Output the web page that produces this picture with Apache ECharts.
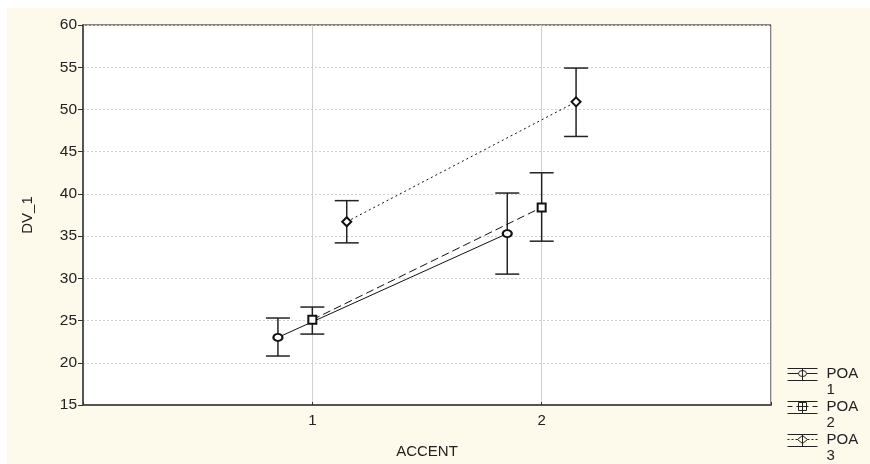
<!DOCTYPE html>
<html>
<head>
<meta charset="utf-8">
<script src="https://cdn.jsdelivr.net/npm/echarts@6/dist/echarts.min.js"></script>
<style>
  html, body { margin: 0; padding: 0; background: #fff; }
  #chart { width: 870px; height: 464px; }
</style>
</head>
<body>
<div id="chart"></div>
<script>
// ACCENT levels, each POA group is dodged a little around them
const accent = [1, 2]
const dodge = { 'POA 1': -0.15, 'POA 2': 0, 'POA 3': 0.15 }

// means and error bar limits
const poa1Mean = [23.0, 35.3]
const poa1Low = [20.8, 30.5]
const poa1High = [25.3, 40.1]

const poa2Mean = [25.1, 38.4]
const poa2Low = [23.4, 34.4]
const poa2High = [26.6, 42.5]

const poa3Mean = [36.7, 50.9]
const poa3Low = [34.2, 46.8]
const poa3High = [39.2, 54.9]

const yTicks = [15, 20, 25, 30, 35, 40, 45, 50, 55, 60]

const groups = [
  { name: 'POA 1', mean: poa1Mean, low: poa1Low, high: poa1High, symbol: 'emptyCircle', size: [9, 7], dash: 'solid' },
  { name: 'POA 2', mean: poa2Mean, low: poa2Low, high: poa2High, symbol: 'emptyRect', size: [8, 8], dash: [8, 4] },
  { name: 'POA 3', mean: poa3Mean, low: poa3Low, high: poa3High, symbol: 'emptyDiamond', size: [9, 9], dash: [2, 3] }
]

// legend icons: error bar glyph with the series marker, box 34x32
const frame = ' M0 3 L30 3 M0 15 L30 15 M34 32 L34 32 M0 0 L0 0'
const legendIcons = {
  'POA 1': 'path://M0 8 L11 8 M19 8 L30 8 M15 3 L15 15 M11 8 A4 3 0 1 1 19 8 A4 3 0 1 1 11 8' + frame,
  'POA 2': 'path://M0 8 L5 8 M9 8 L11 8 M19 8 L21 8 M25 8 L30 8 M15 3 L15 15 M11 4 L19 4 L19 12 L11 12 Z M11 8 L19 8' + frame,
  'POA 3': 'path://M0 8 L2 8 M4 8 L6 8 M8 8 L10 8 M20 8 L22 8 M24 8 L26 8 M28 8 L30 8 M15 3 L15 15 M10 8 L15 4 L20 8 L15 12 Z' + frame
}

const chart = echarts.init(document.getElementById('chart'))
const font = 'Liberation Sans, Arial, sans-serif'

function errorBar(params, api) {
  const x = api.value(0)
  const lo = api.coord([x, api.value(1)])
  const hi = api.coord([x, api.value(2)])
  const w = 12
  const st = { stroke: '#222', lineWidth: 1.5 }
  return {
    type: 'group',
    children: [
      { type: 'line', shape: { x1: lo[0], y1: lo[1], x2: hi[0], y2: hi[1] }, style: st },
      { type: 'line', shape: { x1: hi[0] - w, y1: hi[1], x2: hi[0] + w, y2: hi[1] }, style: st },
      { type: 'line', shape: { x1: lo[0] - w, y1: lo[1], x2: lo[0] + w, y2: lo[1] }, style: st }
    ]
  }
}

const series = []
groups.forEach(g => {
  series.push({
    type: 'custom',
    name: g.name + ' err',
    renderItem: errorBar,
    encode: { x: 0, y: [1, 2] },
    z: 2,
    data: accent.map((a, i) => [a + dodge[g.name], g.low[i], g.high[i]])
  })
})
groups.forEach(g => {
  series.push({
    type: 'line',
    name: g.name,
    symbol: g.symbol,
    symbolSize: g.size,
    z: 3,
    lineStyle: { color: '#111', width: 1, type: g.dash },
    itemStyle: { color: '#111', borderWidth: 1 },
    data: accent.map((a, i) => [a + dodge[g.name], g.mean[i]])
  })
})

// one legend box per group so the stack does not wrap at the bottom edge
const legends = groups.map((g, i) => ({
  orient: 'vertical',
  left: 787,
  top: 365 + i * 33,
  padding: 0,
  itemWidth: 34,
  itemHeight: 32,
  data: [{ name: g.name, icon: legendIcons[g.name] }],
  itemStyle: { color: 'transparent', borderColor: '#222', borderWidth: 1 },
  formatter: name => name.replace(' ', '\n'),
  textStyle: { fontSize: 15, lineHeight: 16, color: '#222', fontFamily: font }
}))

chart.setOption({
  animation: false,
  backgroundColor: '#fff',
  textStyle: { fontFamily: font },
  graphic: [{
    type: 'rect',
    left: 7,
    top: 8,
    z: -100,
    shape: { width: 870, height: 464 },
    style: { fill: '#fdf9eb' }
  }],
  grid: {
    left: 83,
    right: 99,
    top: 25,
    bottom: 51,
    show: true,
    backgroundColor: '#fff',
    borderColor: '#111',
    borderWidth: 1
  },
  legend: legends,
  xAxis: {
    type: 'value',
    min: 0,
    max: 3,
    interval: 1,
    name: 'ACCENT',
    nameLocation: 'middle',
    nameGap: 39,
    nameTextStyle: { fontSize: 15, color: '#222', fontFamily: font },
    axisLine: { lineStyle: { color: '#555', width: 2 } },
    axisTick: { inside: true, length: 3, lineStyle: { color: '#333' } },
    axisLabel: {
      fontSize: 15,
      color: '#222',
      margin: 8,
      fontFamily: font,
      formatter: v => (accent.indexOf(v) >= 0 ? String(v) : '')
    },
    splitLine: { show: true, lineStyle: { color: '#d0d0d0', width: 1 } }
  },
  yAxis: {
    type: 'value',
    min: yTicks[0],
    max: yTicks[yTicks.length - 1],
    interval: 5,
    name: 'DV_1',
    nameLocation: 'middle',
    nameGap: 48,
    nameTextStyle: { fontSize: 15, color: '#222', fontFamily: font },
    axisLine: { show: true, lineStyle: { color: '#555', width: 2 } },
    axisTick: { show: true, length: 5, lineStyle: { color: '#333' } },
    axisLabel: { fontSize: 15.5, color: '#222', margin: 6, fontFamily: font },
    splitLine: { show: true, lineStyle: { color: '#cfcfcf', width: 1, type: [2, 2] } }
  },
  series: series
})
</script>
</body>
</html>
